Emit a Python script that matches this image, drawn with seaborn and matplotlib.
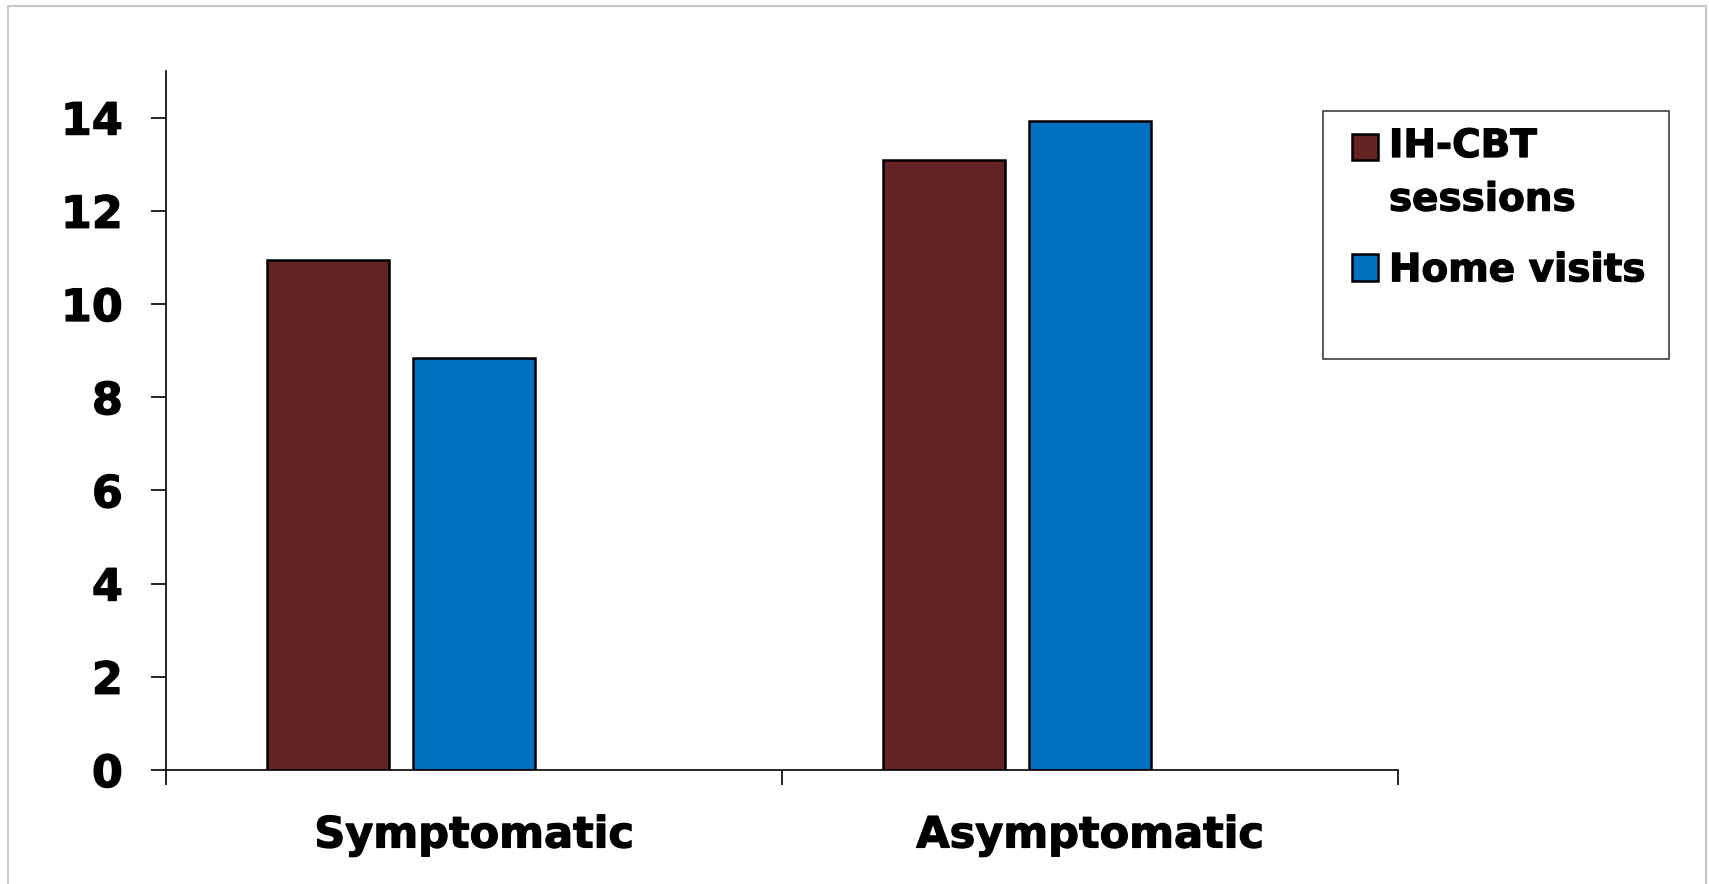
import matplotlib
matplotlib.use("Agg")
import matplotlib.pyplot as plt
from matplotlib.patches import Rectangle
from matplotlib.legend_handler import HandlerPatch
import matplotlib.patheffects as pe
import pandas as pd
import seaborn as sns

# Data
groups = ["Symptomatic", "Asymptomatic"]
series = ["IH-CBT\nsessions", "Home visits"]
ihcbt_values = [10.95, 13.1]
home_visit_values = [8.84, 13.93]
y_ticks = [0, 2, 4, 6, 8, 10, 12, 14]
colors = ["#632423", "#0070C0"]

df = pd.DataFrame({
    "group": groups * 2,
    "series": [series[0]] * len(groups) + [series[1]] * len(groups),
    "value": ihcbt_values + home_visit_values,
})

sns.set_style("white")
plt.rcParams["font.family"] = ["DejaVu Sans"]
plt.rcParams["font.weight"] = "bold"
plt.rcParams["text.color"] = "black"
plt.rcParams["xtick.color"] = "black"
plt.rcParams["ytick.color"] = "black"

heavy = [pe.withStroke(linewidth=0.9, foreground="black")]

W, H = 1709, 884
fig = plt.figure(figsize=(W / 100, H / 100), dpi=100)
ax = fig.add_axes([166 / W, 1 - 770 / H, (1398 - 166) / W, (770 - 71) / H])

sns.barplot(
    data=df, x="group", y="value", hue="series", order=groups, hue_order=series,
    palette=colors, width=0.474, gap=0.17, edgecolor="black", linewidth=1.8,
    saturation=1, ax=ax, legend=True,
)

ax.set_xlim(-0.3815, 1.6185)
ax.set_ylim(0, 15)
ax.set_yticks(y_ticks)
ax.set_yticklabels([str(t) for t in y_ticks], fontsize=32, fontweight="bold")
ax.tick_params(axis="y", left=True, direction="out", length=11, width=1.2,
               color="black", labelcolor="black", pad=20)

# category boundaries as major ticks, names centred between them
ax.set_xticks([-0.3815, 0.6185, 1.6185])
ax.set_xticklabels(["", "", ""])
ax.set_xticks([0.1185, 1.1185], minor=True)
ax.set_xticklabels(groups, minor=True, fontsize=31, fontweight="bold")
ax.tick_params(axis="x", which="major", bottom=True, direction="out", length=11,
               width=1.2, color="black")
ax.tick_params(axis="x", which="minor", bottom=True, length=0, pad=32, labelcolor="black")
ax.set_xlabel("")
ax.set_ylabel("")

for lbl in ax.get_yticklabels() + ax.get_xticklabels(minor=True):
    lbl.set_path_effects(heavy)

for side in ["top", "right"]:
    ax.spines[side].set_visible(False)
for side in ["left", "bottom"]:
    ax.spines[side].set_color("black")
    ax.spines[side].set_linewidth(1.2)

# legend
handles, labels = ax.get_legend_handles_labels()
ax.get_legend().remove()


def top_line_patch(legend, orig_handle, xdescent, ydescent, width, height, fontsize):
    # keep the swatch beside the first line of a two-line label
    return Rectangle((-xdescent, -ydescent + 19.6), width, height)


leg = fig.legend(
    handles, labels, loc="upper left", bbox_to_anchor=(1317 / W, 1 - 92 / H),
    frameon=False, prop={"size": 28, "weight": "bold"},
    handlelength=0.67, handleheight=0.67, handletextpad=0.28, labelspacing=0.84,
    handler_map={handles[0]: HandlerPatch(patch_func=top_line_patch)},
)
for t in leg.get_texts():
    t.set_linespacing(1.52)
    t.set_path_effects(heavy)
fig.patches.append(Rectangle((1323 / W, 1 - 359 / H), (1669 - 1323) / W, (359 - 111) / H,
                             transform=fig.transFigure, fill=False, edgecolor="#404040",
                             linewidth=1.2))

# outer frame
fig.patches.append(Rectangle((8 / W, -0.02), (1706 - 8) / W, 1.02 - 6 / H,
                             transform=fig.transFigure, fill=False, edgecolor="#c8c8c8",
                             linewidth=1.5))

fig.savefig("out.png", dpi=100)
